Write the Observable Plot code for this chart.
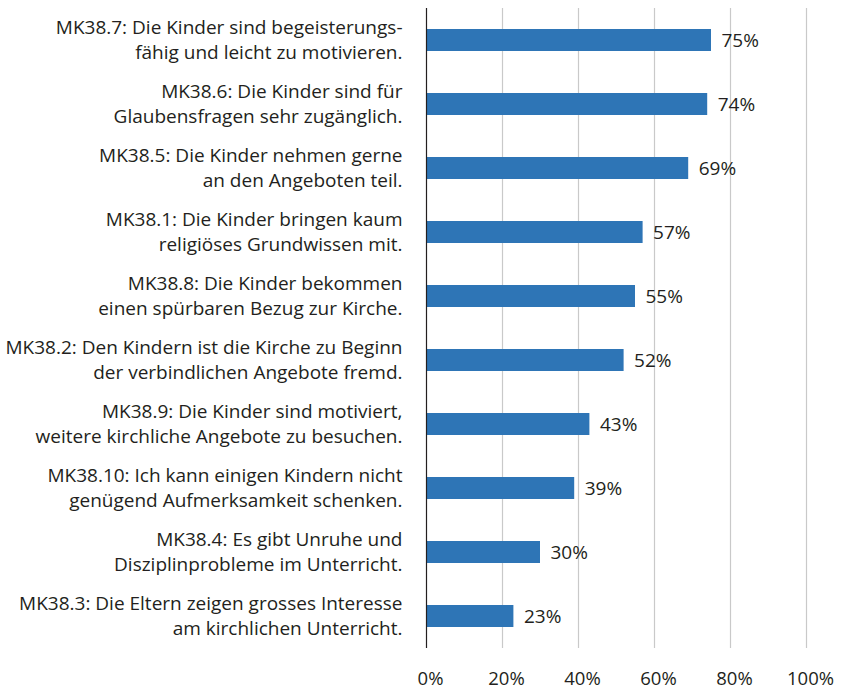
<!DOCTYPE html>
<html>
<head>
<meta charset="utf-8">
<script src="https://cdn.jsdelivr.net/npm/d3@7"></script>
<script src="https://cdn.jsdelivr.net/npm/@observablehq/plot@0.6"></script>
<style>
  html, body { margin: 0; padding: 0; background: #fff; }
</style>
</head>
<body>
<div id="chart"></div>
<script>
const labels = [
  "MK38.7: Die Kinder sind begeisterungs-\nfähig und leicht zu motivieren.",
  "MK38.6: Die Kinder sind für\nGlaubensfragen sehr zugänglich.",
  "MK38.5: Die Kinder nehmen gerne\nan den Angeboten teil.",
  "MK38.1: Die Kinder bringen kaum\nreligiöses Grundwissen mit.",
  "MK38.8: Die Kinder bekommen\neinen spürbaren Bezug zur Kirche.",
  "MK38.2: Den Kindern ist die Kirche zu Beginn\nder verbindlichen Angebote fremd.",
  "MK38.9: Die Kinder sind motiviert,\nweitere kirchliche Angebote zu besuchen.",
  "MK38.10: Ich kann einigen Kindern nicht\ngenügend Aufmerksamkeit schenken.",
  "MK38.4: Es gibt Unruhe und\nDisziplinprobleme im Unterricht.",
  "MK38.3: Die Eltern zeigen grosses Interesse\nam kirchlichen Unterricht."
];
const values = [75, 74, 69, 57, 55, 52, 43, 39, 30, 23];
const xTicks = [0, 20, 40, 60, 80, 100];

const data = labels.map((label, i) => ({label, value: values[i]}));
const font = "'Open Sans', sans-serif";

const chart = Plot.plot({
  width: 841,
  height: 689,
  marginLeft: 426,
  marginRight: 35,
  marginTop: 8,
  marginBottom: 41,
  style: {fontFamily: font, fontSize: "19px", color: "#231f20", background: "#fff", overflow: "visible"},
  x: {domain: [0, 100], ticks: xTicks, tickFormat: d => d + "%", label: null},
  y: {domain: labels, padding: 0, label: null},
  marks: [
    Plot.ruleX(xTicks.filter(d => d > 0), {stroke: "#c9c9c9", strokeWidth: 1.2}),
    Plot.barX(data, {x: "value", y: "label", fill: "#2e75b6", insetTop: 21, insetBottom: 21}),
    Plot.text(data, {x: "value", y: "label", text: d => d.value + "%", textAnchor: "start", dx: 10, fontSize: 19, fill: "#231f20"}),
    Plot.ruleX([0], {stroke: "#231f20", strokeWidth: 1.2}),
    Plot.axisX({ticks: xTicks, tickFormat: d => d + "%", tickSize: 0, tickPadding: 23, dx: 4, fontSize: 18.5, anchor: "bottom", label: null}),
    Plot.axisY({tickSize: 0, tickPadding: 24, fontSize: 19, lineHeight: 1.32, dy: -2, label: null})
  ]
});
document.getElementById("chart").appendChild(chart);
</script>
</body>
</html>
